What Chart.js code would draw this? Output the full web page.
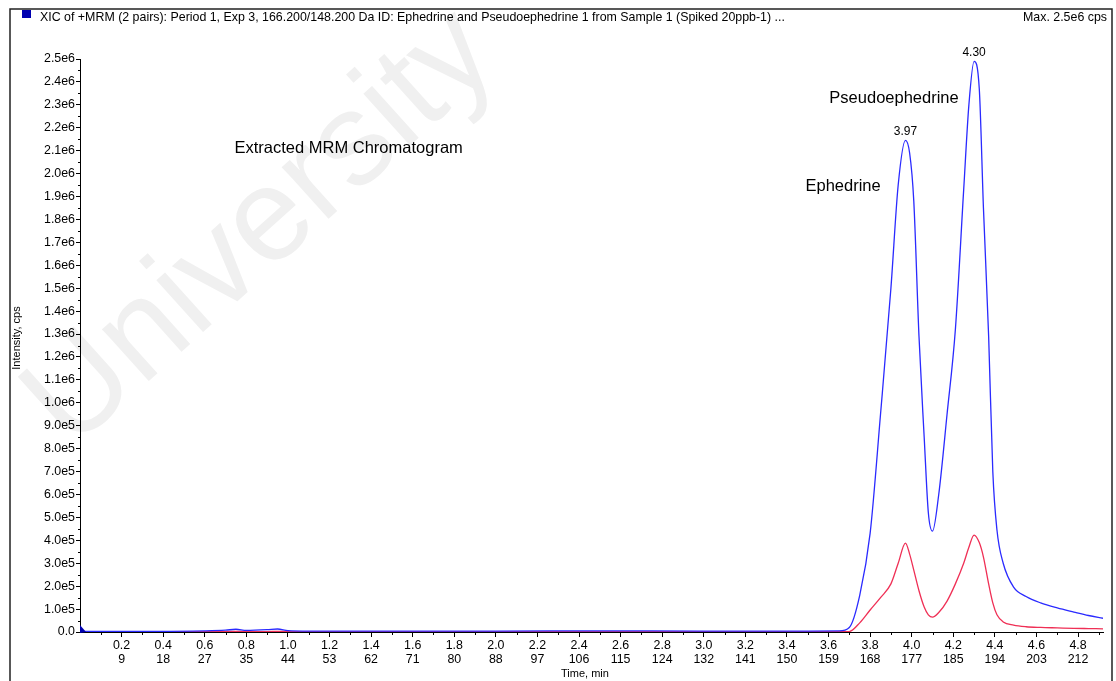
<!DOCTYPE html>
<html>
<head>
<meta charset="utf-8">
<title>XIC of +MRM</title>
<script src="https://cdn.jsdelivr.net/npm/chart.js@4.4.1/dist/chart.umd.min.js"></script>
<style>
  html, body { margin: 0; padding: 0; background: #fff; }
  #chart { display: block; }
</style>
</head>
<body>
<canvas id="chart" width="1116" height="681"></canvas>
<script>
// retention time (min) of each sampled point
const times = [0, 0.3, 0.6, 0.7, 0.75, 0.8, 0.9, 0.95, 1.0, 1.1, 1.5, 2.0, 2.5, 3.0, 3.5, 3.65,
  3.70, 3.75, 3.80, 3.85, 3.90, 3.935, 3.97, 3.99, 4.01, 4.035, 4.06, 4.08, 4.10, 4.13, 4.17,
  4.21, 4.25, 4.275, 4.30, 4.325, 4.345, 4.37, 4.39, 4.41, 4.44, 4.49, 4.55, 4.62, 4.70, 4.78,
  4.85, 4.92];

// 166.2/148.2 transition (blue)
const blueCps = [3e3, 3e3, 5e3, 8e3, 1.2e4, 7e3, 1e4, 1.3e4, 6e3, 4e3, 4e3, 4e3, 5e3, 4e3, 4e3, 5e3,
  2e4, 1.6e5, 4.3e5, 9.5e5, 1.5e6, 1.95e6, 2.145e6, 2.09e6, 1.88e6, 1.29e6, 8.5e5, 5.2e5, 4.4e5,
  6.0e5, 9.5e5, 1.32e6, 1.93e6, 2.30e6, 2.49e6, 2.37e6, 1.85e6, 1.29e6, 7.0e5, 4.45e5, 3.0e5,
  1.96e5, 1.55e5, 1.27e5, 1.05e5, 8.7e4, 7.2e4, 6.0e4];

// second transition (red)
const redCps = [1e3, 1e3, 2e3, 2e3, 3e3, 2e3, 2e3, 3e3, 2e3, 1e3, 1e3, 1e3, 2e3, 1e3, 1e3, 1e3,
  2e3, 4e4, 9.6e4, 1.5e5, 2.1e5, 3.0e5, 3.88e5, 3.4e5, 2.7e5, 1.8e5, 1.09e5, 7.5e4, 6.5e4,
  8.5e4, 1.35e5, 2.1e5, 3.0e5, 3.7e5, 4.23e5, 3.9e5, 3.27e5, 2.1e5, 1.27e5, 7.5e4, 4.4e4,
  3.0e4, 2.3e4, 2.0e4, 1.8e4, 1.6e4, 1.5e4, 1.4e4];

const timeLabels = ["0.2", "0.4", "0.6", "0.8", "1.0", "1.2", "1.4", "1.6", "1.8", "2.0", "2.2", "2.4",
  "2.6", "2.8", "3.0", "3.2", "3.4", "3.6", "3.8", "4.0", "4.2", "4.4", "4.6", "4.8"];
const cycleLabels = ["9", "18", "27", "35", "44", "53", "62", "71", "80", "88", "97", "106",
  "115", "124", "132", "141", "150", "159", "168", "177", "185", "194", "203", "212"];

const peakTimes = [3.97, 4.30];
const peakLabels = ["3.97", "4.30"];

const FONT = '"Liberation Sans", Arial, sans-serif';

function fmtIntensity(v) {
  if (v === 0) return "0.0";
  if (v < 1e6) return (v / 1e5).toFixed(1) + "e5";
  return (v / 1e6).toFixed(1) + "e6";
}

// frame, header, titles, watermark and peak annotations
const decorations = {
  id: "decorations",
  beforeDraw(chart) {
    const ctx = chart.ctx;
    ctx.save();
    ctx.translate(262, 230);
    ctx.rotate(-42 * Math.PI / 180);
    ctx.font = "132px " + FONT;
    ctx.fillStyle = "#f0f0f0";
    ctx.textAlign = "center";
    ctx.textBaseline = "middle";
    ctx.fillText("University", 0, 0);
    ctx.restore();
  },
  afterDraw(chart) {
    const ctx = chart.ctx;
    const x = chart.scales.x;
    const y = chart.scales.y;
    ctx.save();

    // outer frame
    ctx.strokeStyle = "#222";
    ctx.lineWidth = 1.5;
    ctx.beginPath();
    ctx.moveTo(10, 681);
    ctx.lineTo(10, 9);
    ctx.lineTo(1112, 9);
    ctx.lineTo(1112, 681);
    ctx.stroke();

    // header
    ctx.fillStyle = "#0000b0";
    ctx.fillRect(22, 10, 9, 8);
    ctx.fillStyle = "#000";
    ctx.font = "12.4px " + FONT;
    ctx.textBaseline = "middle";
    ctx.textAlign = "left";
    ctx.fillText("XIC of +MRM (2 pairs): Period 1, Exp 3, 166.200/148.200 Da ID: Ephedrine and Pseudoephedrine 1 from Sample 1 (Spiked 20ppb-1) ...", 40, 18);
    ctx.textAlign = "right";
    ctx.fillText("Max. 2.5e6 cps", 1107, 18);

    // axis titles
    ctx.textAlign = "center";
    ctx.font = "11px " + FONT;
    ctx.fillText("Time, min", 585, 674);
    ctx.save();
    ctx.translate(17, 338);
    ctx.rotate(-Math.PI / 2);
    ctx.fillText("Intensity, cps", 0, 0);
    ctx.restore();

    // minor ticks
    ctx.strokeStyle = "#000";
    ctx.lineWidth = 1;
    ctx.beginPath();
    for (let t = 0.1; t < x.max; t += 0.2) {
      const px = Math.round(x.getPixelForValue(t)) + 0.5;
      ctx.moveTo(px, y.bottom);
      ctx.lineTo(px, y.bottom + 3);
    }
    for (let v = 5e4; v < y.max; v += 1e5) {
      const py = Math.round(y.getPixelForValue(v)) + 0.5;
      ctx.moveTo(x.left, py);
      ctx.lineTo(x.left - 2, py);
    }
    ctx.stroke();

    // start-of-trace marker at the origin
    const ox = x.getPixelForValue(0);
    const oy = y.getPixelForValue(0);
    ctx.fillStyle = "#0000b0";
    ctx.beginPath();
    ctx.moveTo(ox, oy - 7);
    ctx.lineTo(ox + 6, oy);
    ctx.lineTo(ox, oy + 1);
    ctx.closePath();
    ctx.fill();

    // peak labels
    ctx.fillStyle = "#000";
    ctx.font = "12px " + FONT;
    ctx.textAlign = "center";
    ctx.textBaseline = "bottom";
    peakTimes.forEach((t, i) => {
      const v = blueCps[times.indexOf(t)];
      ctx.fillText(peakLabels[i], x.getPixelForValue(t), y.getPixelForValue(v) - 3);
    });

    // compound annotations
    ctx.font = "16.5px " + FONT;
    ctx.textAlign = "left";
    ctx.textBaseline = "middle";
    ctx.fillText("Extracted MRM Chromatogram", x.getPixelForValue(0.743), y.getPixelForValue(2.11e6));
    ctx.fillText("Pseudoephedrine", x.getPixelForValue(3.604), y.getPixelForValue(2.33e6));
    ctx.fillText("Ephedrine", x.getPixelForValue(3.489), y.getPixelForValue(1.945e6));

    ctx.restore();
  }
};

new Chart(document.getElementById("chart"), {
  type: "line",
  data: {
    labels: times,
    datasets: [
      {
        label: "166.2/148.2",
        data: times.map((t, i) => ({ x: t, y: blueCps[i] })),
        borderColor: "#2a2aff",
        borderWidth: 1.3,
        pointRadius: 0,
        cubicInterpolationMode: "monotone",
        fill: false
      },
      {
        label: "second transition",
        data: times.map((t, i) => ({ x: t, y: redCps[i] })),
        borderColor: "#ef2f55",
        borderWidth: 1.3,
        pointRadius: 0,
        cubicInterpolationMode: "monotone",
        fill: false
      }
    ]
  },
  options: {
    responsive: false,
    animation: false,
    events: [],
    layout: { padding: { top: 59, left: 10, right: 13, bottom: 0 } },
    plugins: {
      legend: { display: false },
      tooltip: { enabled: false }
    },
    scales: {
      x: {
        type: "linear",
        min: 0,
        max: 4.92,
        afterBuildTicks: (scale) => {
          scale.ticks = timeLabels.map((l) => ({ value: parseFloat(l) }));
        },
        afterFit: (scale) => { scale.height = 49; },
        grid: { drawOnChartArea: false, drawTicks: true, tickLength: 5, color: "#000" },
        border: { display: true, color: "#000", width: 1 },
        ticks: {
          autoSkip: false,
          maxRotation: 0,
          padding: 1,
          color: "#000",
          font: { family: FONT, size: 12.4, lineHeight: 1.15 },
          callback: (value, index) => [timeLabels[index], cycleLabels[index]]
        }
      },
      y: {
        min: 0,
        max: 2.5e6,
        afterFit: (scale) => { scale.width = 70; },
        grid: { drawOnChartArea: false, drawTicks: true, tickLength: 4, color: "#000" },
        border: { display: true, color: "#000", width: 1 },
        ticks: {
          stepSize: 1e5,
          autoSkip: false,
          padding: 1,
          color: "#000",
          font: { family: FONT, size: 12.4 },
          callback: (value) => fmtIntensity(value)
        }
      }
    }
  },
  plugins: [decorations]
});
</script>
</body>
</html>
